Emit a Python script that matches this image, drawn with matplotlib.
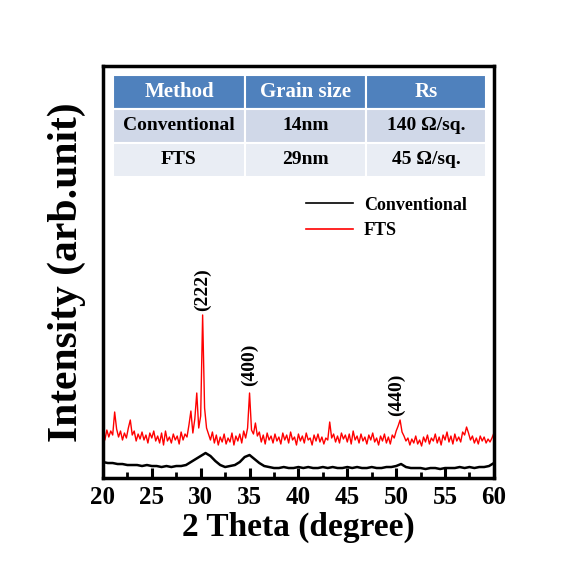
import numpy as np
import matplotlib
matplotlib.use("Agg")
import matplotlib.pyplot as plt
from matplotlib.lines import Line2D

plt.rcParams['font.family'] = ['Liberation Serif', 'DejaVu Serif']
plt.rcParams['font.weight'] = 'bold'

# FTS trace, 20..60 deg, 0.2 deg step (arb. units)
fts = [45, 38, 48, 41, 47, 43, 66, 49, 41, 47,
       38, 45, 40, 50, 58, 43, 47, 37, 44, 39,
       46, 38, 43, 35, 45, 40, 47, 37, 42, 35,
       45, 33, 47, 37, 41, 35, 44, 38, 42, 34,
       46, 38, 44, 41, 53, 67, 45, 59, 85, 50,
       62, 163, 70, 50, 44, 38, 46, 35, 43, 33,
       41, 36, 44, 34, 40, 36, 45, 33, 42, 37,
       44, 35, 47, 40, 50, 85, 48, 44, 55, 42,
       46, 36, 43, 34, 45, 38, 42, 35, 44, 37,
       41, 34, 45, 38, 43, 35, 46, 38, 41, 33,
       44, 37, 42, 35, 45, 38, 40, 33, 43, 37,
       44, 36, 41, 34, 40, 38, 56, 40, 44, 36,
       42, 35, 45, 39, 43, 36, 44, 34, 47, 38,
       42, 35, 44, 37, 41, 34, 43, 38, 45, 36,
       40, 33, 42, 37, 44, 35, 41, 34, 43, 40,
       47, 52, 58, 46, 42, 37, 40, 33, 39, 35,
       42, 34, 38, 32, 41, 36, 43, 34, 40, 37,
       44, 35, 41, 33, 43, 38, 46, 36, 42, 34,
       44, 37, 41, 36, 46, 43, 51, 45, 38, 42,
       35, 40, 34, 42, 37, 41, 35, 39, 36, 40,
       45]
fts_x = np.arange(len(fts)) * 0.2 + 20

# Conventional trace, 0.5 deg step
conv = [16, 15, 15, 14, 14, 13, 13, 13, 12, 13,
        12, 12, 11, 12, 11, 12, 12, 13, 16, 19,
        22, 25, 22, 17, 13, 11, 12, 13, 16, 21,
        23, 19, 15, 12, 11, 10, 10, 11, 10, 10,
        11, 10, 11, 10, 10, 11, 10, 11, 10, 10,
        11, 10, 11, 10, 10, 11, 10, 10, 11, 11,
        12, 14, 11, 10, 10, 10, 9, 10, 10, 9,
        10, 10, 10, 11, 10, 11, 10, 11, 11, 12,
        15]
conv_x = np.arange(len(conv)) * 0.5 + 20

peak_labels = ["(222)", "(400)", "(440)"]
peak_pos = [30.2, 35.0, 50.0]
peak_y = [188, 113, 83]

col_labels = ["Method", "Grain size", "Rs"]
table_rows = [["Conventional", "14nm", "140 \u03a9/sq."],
              ["FTS", "29nm", "45 \u03a9/sq."]]

fig = plt.figure(figsize=(5.75, 5.74), dpi=100)
ax = fig.add_axes([0.179, 0.1672, 0.680, 0.718])

ax.plot(conv_x, conv, color='black', lw=1.8)
ax.plot(fts_x, fts, color='red', lw=1.0)

for lab, px, py in zip(peak_labels, peak_pos, peak_y):
    ax.text(px, py, lab, rotation=90, ha='center', va='center',
            fontsize=14, fontweight='bold')

ax.set_xlim(20, 60)
ax.set_ylim(0, 412)
ax.set_xticks(np.arange(20, 61, 5))
ax.set_xticks(np.arange(22.5, 60, 5), minor=True)
ax.set_yticks([])
ax.tick_params(axis='x', which='major', direction='in', length=7, width=2.2,
               labelsize=18, pad=6)
ax.tick_params(axis='x', which='minor', direction='in', length=4, width=2)
for lab in ax.get_xticklabels():
    lab.set_fontweight('bold')
for sp in ax.spines.values():
    sp.set_linewidth(2.5)

ax.set_xlabel("2 Theta (degree)", fontsize=24, fontweight='bold', labelpad=2)
ax.set_ylabel("Intensity (arb.unit)", fontsize=30, fontweight='bold', labelpad=12)

handles = [Line2D([], [], color='black', lw=1.2), Line2D([], [], color='red', lw=1.2)]
ax.legend(handles, ["Conventional", "FTS"], loc='upper left',
          bbox_to_anchor=(0.52, 0.683), frameon=False, borderpad=0, borderaxespad=0,
          handlelength=2.6, handletextpad=0.6, labelspacing=0.48,
          prop={'family': 'Liberation Serif', 'size': 13, 'weight': 'bold'})

tbl = ax.table(cellText=table_rows, colLabels=col_labels, cellLoc='center',
               colWidths=[0.354, 0.324, 0.322],
               bbox=[0.0256, 0.7306, 0.954, 0.2474])
tbl.auto_set_font_size(False)
row_colors = {0: '#4f81bd', 1: '#d0d8e8', 2: '#e9edf4'}
for (r, c), cell in tbl.get_celld().items():
    cell.set_facecolor(row_colors[r])
    cell.set_edgecolor('white')
    cell.set_linewidth(1.5)
    t = cell.get_text()
    t.set_fontfamily('Liberation Serif')
    t.set_fontweight('bold')
    if r == 0:
        t.set_color('white')
        t.set_fontsize(15)
    else:
        t.set_fontsize(14)

fig.savefig("out.png", dpi=100)
